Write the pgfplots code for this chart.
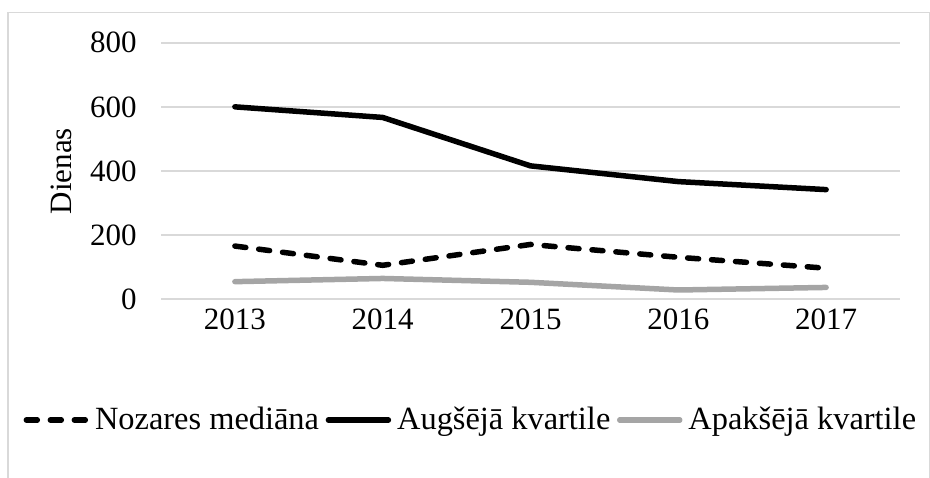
\documentclass[border=0pt]{standalone}
\usepackage{fontspec}
\setmainfont{Liberation Serif}
\usepackage{pgfplots}
\pgfplotsset{compat=1.18}
\definecolor{gridgray}{HTML}{D9D9D9}
\definecolor{lowgray}{HTML}{A5A5A5}

\begin{document}
\begin{tikzpicture}[font=\fontsize{15.5}{18}\selectfont]
\useasboundingbox (0,0) rectangle (465pt,238.5pt);
% chart frame (bottom edge lies below the picture)
\draw[gridgray, line width=0.6pt] (4pt,-20pt) rectangle (464.65pt,232.25pt);
\begin{axis}[
    at={(80.5pt,88.85pt)}, anchor=south west,
    scale only axis, width=369.5pt, height=128.3pt,
    xmin=-0.5, xmax=4.5, ymin=0, ymax=800,
    xtick={0,...,4}, xticklabels={2013,2014,2015,2016,2017},
    ytick={0,200,...,800},
    ymajorgrids, grid style={gridgray, line width=0.9pt},
    axis line style={draw=none}, major tick length=0pt,
    /pgf/number format/assume math mode=true,
    xticklabel style={yshift=-1.3pt},
    yticklabel style={xshift=-8.6pt},
    ylabel={Dienas},
    ylabel style={at={(axis description cs:-0.1353,0.5)}, anchor=center},
    clip=false,
    legend columns=3,
    legend image code/.code={\draw[#1] (0pt,0pt) -- (30pt,0pt);},
    legend style={draw=none, fill=none, inner sep=0pt,
        font=\fontsize{16.2}{19}\selectfont,
        at={(axis description cs:-0.1865,-0.4704)}, anchor=west,
        nodes={inner xsep=3pt, inner ysep=0pt},
        /tikz/every even column/.append style={column sep=0.3pt}},
]
\addplot[black, line width=2.75pt, dash pattern=on 5.5pt off 6.5pt, line cap=round, line join=round]
    coordinates {(0,166) (1,106) (2,171) (3,131) (4,97)};
\addplot[black, line width=2.75pt, line cap=round, line join=round]
    coordinates {(0,600) (1,567) (2,416) (3,367) (4,342)};
\addplot[lowgray, line width=2.75pt, line cap=round, line join=round]
    coordinates {(0,55) (1,65) (2,53) (3,29) (4,37)};
\legend{Nozares mediāna, Augšējā kvartile, Apakšējā kvartile}
\end{axis}
\end{tikzpicture}
\end{document}
